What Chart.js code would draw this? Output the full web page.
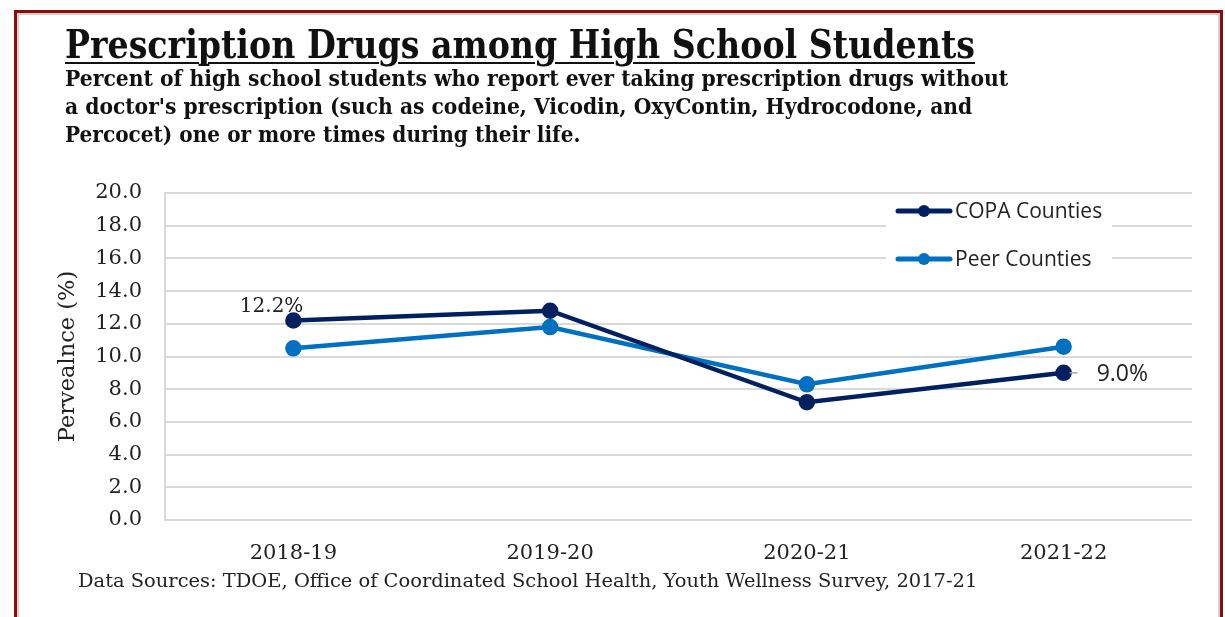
<!DOCTYPE html>
<html>
<head>
<meta charset="utf-8">
<script src="https://cdn.jsdelivr.net/npm/chart.js@4"></script>
<style>
  html, body { margin: 0; padding: 0; background: #fff; width: 1225px; height: 617px; overflow: hidden; }
  #frame {
    position: absolute; left: 14px; top: 10px; width: 1203px; height: 640px;
    border: 3px solid #8b0d08;
    box-shadow: inset 0 0 0 2px #d0d0d0;
  }
  .txt { position: absolute; white-space: nowrap; transform-origin: 0 50%; color: #111; }
  #title { left: 65px; top: 20px; font: bold 40px "DejaVu Serif", serif; text-decoration: underline; text-decoration-thickness: 2px; text-underline-offset: 4px; }
  .sub { left: 65px; font: bold 22px "DejaVu Serif", serif; }
  #src { left: 78px; top: 569px; font: 19px "DejaVu Serif", serif; color: #222; }
  #chart { position: absolute; left: 0; top: 0; }
</style>
</head>
<body>
<div id="frame"></div>
<canvas id="chart" width="1225" height="617"></canvas>
<div id="title" class="txt" data-w="910">Prescription Drugs among High School Students</div>
<div class="txt sub" style="top:65px" data-w="943">Percent of high school students who report ever taking prescription drugs without</div>
<div class="txt sub" style="top:93px" data-w="907">a doctor's prescription (such as codeine, Vicodin,  OxyContin, Hydrocodone, and</div>
<div class="txt sub" style="top:121px" data-w="515">Percocet) one or more times during their life.</div>
<div id="src" class="txt" data-w="899">Data Sources: TDOE, Office of Coordinated School Health, Youth Wellness Survey, 2017-21</div>
<script>
// Chart data
const seasons = ["2018-19", "2019-20", "2020-21", "2021-22"];
const copaValues = [12.2, 12.8, 7.2, 9.0];
const peerValues = [10.5, 11.8, 8.3, 10.6];
const yMin = 0, yMax = 20, yStep = 2;
// which points carry a value label
const copaLabelIdx = [0, 3];
const peerLabelIdx = [];

// squeeze/stretch text lines to their set widths
document.querySelectorAll(".txt[data-w]").forEach(el => {
  const w = +el.dataset.w;
  el.style.transform = `scaleX(${w / el.offsetWidth})`;
});

// value labels next to the chosen points
const valueLabels = {
  id: "valueLabels",
  afterDatasetsDraw(chart) {
    const ctx = chart.ctx;
    chart.data.datasets.forEach((ds, i) => {
      const meta = chart.getDatasetMeta(i);
      (ds.labelIdx || []).forEach(k => {
        const pt = meta.data[k];
        const txt = ds.data[k].toFixed(1) + "%";
        ctx.save();
        ctx.fillStyle = "#222";
        ctx.textBaseline = "middle";
        if (k === ds.data.length - 1) {
          // leader line then label to the right
          ctx.strokeStyle = "#a6a6a6";
          ctx.lineWidth = 1.5;
          ctx.beginPath();
          ctx.moveTo(pt.x + 6, pt.y);
          ctx.lineTo(pt.x + 14, pt.y);
          ctx.stroke();
          ctx.font = "23px 'Open Sans', sans-serif";
          ctx.textAlign = "left";
          ctx.fillText(txt, pt.x + 33, pt.y + 2);
        } else {
          ctx.font = "20px 'DejaVu Serif', serif";
          ctx.textAlign = "right";
          ctx.fillText(txt, pt.x + 10, pt.y - 14);
        }
        ctx.restore();
      });
    });
  }
};

// legend sitting inside the plot, top right
const innerLegend = {
  id: "innerLegend",
  afterDatasetsDraw(chart) {
    const ctx = chart.ctx;
    const x0 = 886, y0 = 195;
    ctx.save();
    ctx.fillStyle = "#fff";
    ctx.fillRect(x0, y0, 226, 86);
    chart.data.datasets.forEach((ds, i) => {
      const y = 211 + i * 48;
      ctx.strokeStyle = ds.borderColor;
      ctx.lineWidth = 5;
      ctx.lineCap = "round";
      ctx.beginPath();
      ctx.moveTo(898, y);
      ctx.lineTo(950, y);
      ctx.stroke();
      ctx.fillStyle = ds.borderColor;
      ctx.beginPath();
      ctx.arc(924, y, 6, 0, Math.PI * 2);
      ctx.fill();
      ctx.fillStyle = "#222";
      ctx.font = "21px 'Open Sans', sans-serif";
      ctx.textAlign = "left";
      ctx.textBaseline = "middle";
      ctx.fillText(ds.label, 955, y + 1);
    });
    ctx.restore();
  }
};

new Chart(document.getElementById("chart"), {
  type: "line",
  data: {
    labels: seasons,
    datasets: [
      {
        label: "COPA Counties",
        data: copaValues,
        labelIdx: copaLabelIdx,
        borderColor: "#002060",
        backgroundColor: "#002060",
        borderWidth: 4.5,
        pointRadius: 6,
        pointHoverRadius: 6,
        tension: 0
      },
      {
        label: "Peer Counties",
        data: peerValues,
        labelIdx: peerLabelIdx,
        borderColor: "#0070c0",
        backgroundColor: "#0070c0",
        borderWidth: 4.5,
        pointRadius: 6,
        pointHoverRadius: 6,
        tension: 0
      }
    ]
  },
  options: {
    responsive: false,
    animation: false,
    layout: { padding: { left: 55, top: 193, right: 33, bottom: 52 } },
    plugins: { legend: { display: false }, tooltip: { enabled: false } },
    scales: {
      x: {
        offset: true,
        grid: { display: false },
        border: { display: false },
        ticks: { color: "#222", padding: 13, font: { family: "'DejaVu Serif', serif", size: 21 } },
        afterFit: s => { s.height = 45; }
      },
      y: {
        min: yMin,
        max: yMax,
        ticks: {
          stepSize: yStep,
          color: "#222",
          padding: 23,
          font: { family: "'DejaVu Serif', serif", size: 21 },
          callback: v => v.toFixed(1)
        },
        grid: { color: "#d9d9d9", lineWidth: 2, drawTicks: false },
        border: { display: true, color: "#d9d9d9", width: 2 },
        title: {
          display: true,
          text: "Pervealnce (%)",
          color: "#222",
          padding: 0,
          font: { family: "'DejaVu Serif', serif", size: 22.5 }
        },
        afterFit: s => { s.width = 110; }
      }
    }
  },
  plugins: [valueLabels, innerLegend]
});
</script>
</body>
</html>
